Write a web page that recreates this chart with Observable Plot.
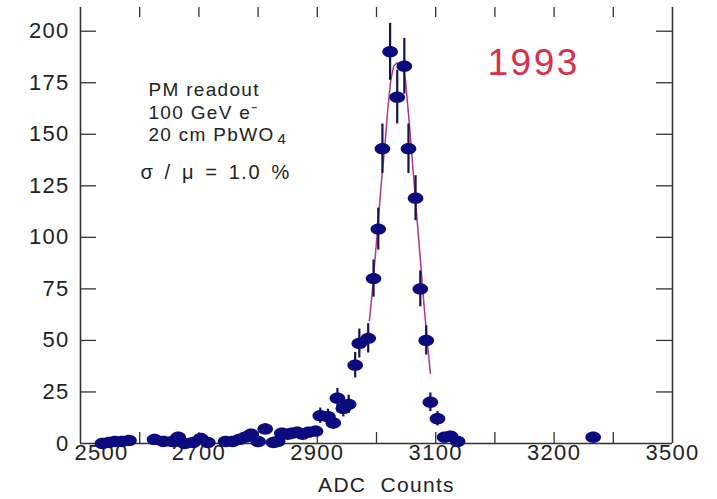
<!DOCTYPE html>
<html><head><meta charset="utf-8">
<script src="https://cdn.jsdelivr.net/npm/d3@7"></script>
<script src="https://cdn.jsdelivr.net/npm/@observablehq/plot@0.6"></script>
<style>
html,body{margin:0;padding:0;background:#fff;}
#chart svg{display:block}
</style>
</head><body><div id="chart"></div>
<script>
// measured histogram points (ADC counts, entries, error)
const adc = [2537,2548,2558,2570,2582,2625,2640,2655,2665,2676,2690,2703,2715,2745,2757,2768,2778,2788,2800,2812,2826,2833,2840,2850,2857,2866,2875,2885,2897,2905,2918,2927,2934,2944,2953,2964,2971,2986,2995,3003,3010,3023,3035,3047,3054,3066,3074,3084,3091,3103,3115,3125,3137,3366];
const counts = [0,0.5,1,1,1.5,2,1,1,3,0,0.5,2.5,0.5,1,1,2,3,4.5,1,7,0.5,1,5,4.5,5,5.5,4.5,5.5,6,13.5,13,10,22,17,19,38,48.5,51,80,104,143,190,168,183,143,119,75,50,20,12,3,3.5,1,3];
const errors = [1,1,1,1,1.2,1.4,1,1,1.7,1,1,1.6,1,1,1,1.4,1.7,2.1,1,2.6,1,1,2.2,2.1,2.2,2.3,2.1,2.3,2.4,3.7,3.6,3.2,4.7,4.1,4.4,6.2,7,7.1,9,10.2,12,13.8,13,13.5,12,10.9,8.7,7.1,4.5,3.5,1.7,1.9,1,1.7];
// fitted curve
const fitAdc = [2988,2993,2998,3003,3008,3014,3019,3024,3029,3034,3039,3044,3049,3054,3059,3064,3069,3074,3079,3084,3091];
const fitCounts = [59.6,74,91,108,126,144,162,176,183,184.6,184,183,176,160,143,124.5,107,89.6,71.7,54.7,34];
// axes
const yTickValues = [0,25,50,75,100,125,150,175,200];
const xMinorTicks = [2600,2700,2800,2900,3000,3100,3200,3300,3400];
const xLabelValues = [2700,2900,3100,3300,3500];
const xLabelTexts = ["2700","2900","3100","3200","3500"];
const xFirstLabel = "2500";
const xTitle = "ADC  Counts";
// annotations
const annotationLines = ["PM readout","100 GeV e\u207B","20 cm PbWO"];
const subscriptFour = "4";
const resolutionText = "\u03C3 / \u03BC = 1.0 %";
const yearText = "1993";

const points = adc.map((x,i)=>({x, y:counts[i], lo:Math.max(0,counts[i]-errors[i]), hi:counts[i]+errors[i]}));
const fit = fitAdc.map((x,i)=>({x, y:fitCounts[i]}));

const ellipse = {draw(ctx,size){
  const r = Math.sqrt(size/Math.PI); const rx=r*1.3, ry=r*0.95, k=0.5523;
  ctx.moveTo(rx,0);
  ctx.bezierCurveTo(rx,ry*k,rx*k,ry,0,ry);
  ctx.bezierCurveTo(-rx*k,ry,-rx,ry*k,-rx,0);
  ctx.bezierCurveTo(-rx,-ry*k,-rx*k,-ry,0,-ry);
  ctx.bezierCurveTo(rx*k,-ry,rx,-ry*k,rx,0);
  ctx.closePath();
}};

const W=717,H=499,ML=80,MR=45,MT=7,MB=56;
const fw=W-ML-MR, fh=H-MT-MB;
const axisColor="#333";
const textColor="#222";

const chart = Plot.plot({
  width:W, height:H, marginLeft:ML, marginRight:MR, marginTop:MT, marginBottom:MB,
  x:{domain:[2500,3500], axis:null},
  y:{domain:[0,211.5], axis:null},
  style:{fontFamily:"'Liberation Sans', Arial, sans-serif", background:"white", color:textColor, letterSpacing:"1.3px"},
  marks:[
    Plot.ruleY([0],{stroke:axisColor, strokeWidth:1.6}),
    Plot.ruleX([2500,3500],{stroke:axisColor, strokeWidth:1.6}),
    Plot.tickY(yTickValues.filter(v=>v>0),{y:d=>d, insetRight:fw-16, stroke:axisColor, strokeWidth:1.3}),
    Plot.tickY(yTickValues.filter(v=>v>0),{y:d=>d, insetLeft:fw-16, stroke:axisColor, strokeWidth:1.3}),
    Plot.tickX(xMinorTicks,{x:d=>d, insetBottom:fh-10, stroke:axisColor, strokeWidth:1.3}),
    Plot.tickX(xMinorTicks,{x:d=>d, insetTop:fh-11, stroke:axisColor, strokeWidth:1.3}),
    Plot.text(yTickValues,{x:2500, y:d=>d, text:d=>String(d), dx:-11, textAnchor:"end", fontSize:22, fill:textColor}),
    Plot.text(xLabelValues,{x:d=>d, text:(d,i)=>xLabelTexts[i], frameAnchor:"bottom", dy:16, fontSize:22, fill:textColor}),
    Plot.text([xFirstLabel],{x:2500, frameAnchor:"bottom", text:d=>d, dy:16, dx:-6, textAnchor:"start", fontSize:22, fill:textColor}),
    Plot.text([xTitle],{frameAnchor:"bottom", text:d=>d, dy:48, dx:10, fontSize:21, fill:textColor}),
    Plot.text([annotationLines.join("\n")],{frameAnchor:"top-left", text:d=>d, dx:68, dy:73, lineAnchor:"top", textAnchor:"start", lineHeight:1.18, fontSize:19, fill:textColor}),
    Plot.text([subscriptFour],{frameAnchor:"top-left", text:d=>d, dx:197, dy:126, lineAnchor:"top", textAnchor:"start", fontSize:15, fill:textColor}),
    Plot.text([resolutionText],{frameAnchor:"top-left", text:d=>d, dx:60, dy:157, lineAnchor:"top", textAnchor:"start", fontSize:20, fill:textColor}),
    Plot.text([yearText],{frameAnchor:"top-left", text:d=>d, dx:407, dy:41, lineAnchor:"top", textAnchor:"start", fontSize:37, fill:"#d8304a"}),
    Plot.line(fit,{x:"x", y:"y", stroke:"#b8368a", strokeWidth:1.5}),
    Plot.ruleX(points,{x:"x", y1:"lo", y2:"hi", stroke:"#14144a", strokeWidth:2.2}),
    Plot.dot(points,{x:"x", y:"y", r:6, symbol:ellipse, fill:"#0b0b7e", stroke:"none"})
  ]
});
const svgSel = d3.select(chart);
svgSel.selectAll("text").filter(function(){return this.textContent===yearText;}).attr("letter-spacing","2.5px");
svgSel.selectAll("text").filter(function(){return this.textContent===resolutionText;}).attr("letter-spacing","1.6px").attr("word-spacing","3px");
document.getElementById("chart").appendChild(chart);
</script>
</body></html>
